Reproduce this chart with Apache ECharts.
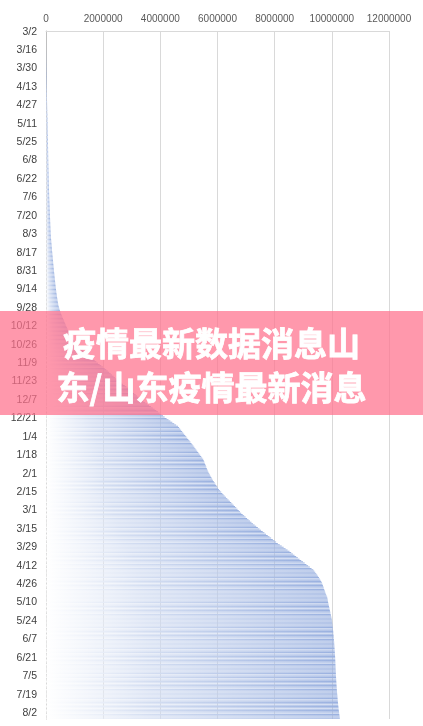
<!DOCTYPE html>
<html lang="zh-CN">
<head>
<meta charset="UTF-8">
<title>疫情最新数据消息山东</title>
<style>
  html, body { margin: 0; padding: 0; background: #fff; }
  #main { width: 423px; height: 726px; }
</style>
</head>
<body>
<div id="main"></div>
<script src="https://cdn.jsdelivr.net/npm/echarts@6/dist/echarts.min.js"></script>
<script>
// first day of the series, one bar per day
var startDate = [2020, 3, 2];

// cumulative values, 2020-03-02 .. 2020-12-31
var cases2020 = [
  // Mar
  100, 120, 150, 200, 260, 330, 420, 520, 640, 780, 940, 1120, 1350, 1650, 2000,
  2450, 2950, 3500, 4100, 4750, 5400, 6100, 6850, 7600, 8400, 9200, 10000, 10900, 11800, 12700,
  // Apr
  13600, 14500, 15400, 16300, 17200, 18100, 19000, 19900, 20800, 21700, 22600, 23500, 24500, 25500, 26600,
  27700, 28800, 29900, 31000, 32100, 33200, 34300, 35400, 36500, 37600, 38700, 39800, 40900, 42000, 43100,
  // May
  44200, 45300, 46300, 47300, 48300, 49300, 50300, 51300, 52300, 53300, 54400, 55500, 56600, 57700, 58800, 59900,
  61000, 62100, 63200, 64300, 65300, 66300, 67300, 68200, 69100, 70000, 70800, 71600, 72400, 73200, 74000,
  // Jun
  74700, 75400, 76100, 76800, 77500, 78200, 79000, 80000, 81000, 82000, 83000, 84000, 85000, 86100, 87200,
  88300, 89400, 90500, 91600, 92700, 93800, 95000, 96300, 97600, 98900, 100200, 101500, 102800, 104100, 105400,
  // Jul
  106800, 108200, 109600, 111000, 112500, 114000, 115600, 117200, 118900, 120600, 122300, 124000, 125800, 127600, 129400, 131200,
  133000, 134900, 136800, 138700, 140600, 142500, 144400, 146300, 148200, 150100, 152000, 153900, 155800, 157700, 159600,
  // Aug
  161500, 163300, 165200, 168500, 172000, 175600, 179300, 183000, 186800, 190600, 194400, 198300, 202200, 206200, 210200, 214300,
  218400, 222600, 226800, 231000, 235200, 239500, 243800, 248100, 252500, 256900, 261300, 265800, 270300, 274900, 279500,
  // Sep
  284200, 289000, 293800, 298600, 303400, 308300, 313200, 318100, 323100, 328200, 333400, 338700, 344100, 349700, 355500,
  361500, 367700, 374100, 380700, 387500, 394500, 401700, 409200, 417000, 425200, 433800, 445000, 458000, 472000, 487000,
  // Oct
  503000, 520000, 537000, 555000, 574000, 594000, 615000, 634000, 653000, 672000, 691000, 711000, 731000, 751000, 772000, 794000,
  817000, 841000, 866000, 892000, 919000, 947000, 985000, 1025000, 1067000, 1110000, 1154000, 1199000, 1245000, 1292000, 1340000,
  // Nov
  1390000, 1440000, 1491000, 1543000, 1596000, 1649000, 1702000, 1760000, 1818000, 1876000, 1934000, 1992000, 2050000, 2108000, 2160000,
  2211000, 2262000, 2313000, 2365000, 2417000, 2469000, 2521000, 2579000, 2637000, 2695000, 2754000, 2813000, 2872000, 2931000, 2982000,
  // Dec
  3033000, 3084000, 3135000, 3186000, 3237000, 3288000, 3340000, 3405000, 3471000, 3537000, 3603000, 3669000, 3735000, 3800000, 3858000, 3916000,
  3974000, 4033000, 4092000, 4150000, 4218000, 4285000, 4352000, 4419000, 4486000, 4553000, 4620000, 4656000, 4692000, 4728000, 4764000
];

// cumulative values, 2021-01-01 .. 2021-08-06
var cases2021 = [
  // Jan
  4800000, 4836000, 4872000, 4908000, 4944000, 4980000, 5016000, 5053000, 5090000, 5124000, 5158000, 5192000, 5226000, 5260000, 5294000, 5328000,
  5362000, 5396000, 5430000, 5465000, 5500000, 5518000, 5536000, 5554000, 5572000, 5590000, 5608000, 5626000, 5643000, 5660000, 5685000,
  // Feb
  5710000, 5735000, 5760000, 5786000, 5812000, 5840000, 5870000, 5900000, 5930000, 5960000, 5990000, 6020000, 6050000, 6090000,
  6130000, 6170000, 6210000, 6250000, 6296000, 6342000, 6388000, 6434000, 6480000, 6524000, 6568000, 6612000, 6656000, 6700000,
  // Mar
  6744000, 6788000, 6830000, 6881000, 6932000, 6983000, 7034000, 7085000, 7136000, 7188000, 7240000, 7297000, 7354000, 7411000, 7468000, 7525000,
  7582000, 7640000, 7699000, 7758000, 7817000, 7876000, 7935000, 7993000, 8051000, 8110000, 8178000, 8246000, 8314000, 8382000, 8450000,
  // Apr
  8520000, 8578000, 8636000, 8694000, 8752000, 8810000, 8870000, 8930000, 8990000, 9050000, 9110000, 9170000, 9230000, 9290000, 9350000,
  9385000, 9420000, 9455000, 9488000, 9520000, 9550000, 9578000, 9605000, 9630000, 9652000, 9672000, 9688000, 9702000, 9718000, 9734000,
  // May
  9750000, 9766000, 9782000, 9800000, 9820000, 9840000, 9848000, 9856000, 9864000, 9872000, 9882000, 9892000, 9902000, 9912000, 9922000, 9932000,
  9942000, 9952000, 9962000, 9972000, 9982000, 9992000, 10001000, 10010000, 10015000, 10020000, 10025000, 10030000, 10035000, 10040000, 10045000,
  // Jun
  10049000, 10053000, 10057000, 10061000, 10065000, 10069000, 10073000, 10077000, 10081000, 10084000, 10087000, 10090000, 10093000, 10096000, 10099000,
  10102000, 10105000, 10108000, 10111000, 10114000, 10117000, 10119000, 10121000, 10123000, 10125000, 10127000, 10129000, 10131000, 10133000, 10135000,
  // Jul
  10137000, 10139000, 10141000, 10143000, 10145000, 10148000, 10151000, 10154000, 10157000, 10160000, 10163000, 10166000, 10169000, 10172000, 10175000, 10178000,
  10182000, 10186000, 10190000, 10194000, 10198000, 10202000, 10206000, 10210000, 10214000, 10219000, 10224000, 10229000, 10234000, 10239000, 10244000,
  // Aug
  10250000, 10256000, 10262000, 10268000, 10274000, 10280000
];

var xTicks = { min: 0, max: 12000000, step: 2000000 };
var bannerLines = ['疫情最新数据消息山', '东/山东疫情最新消息'];

var values = cases2020.concat(cases2021);

// day labels M/D
var days = [];
var d = new Date(Date.UTC(startDate[0], startDate[1] - 1, startDate[2]));
for (var i = 0; i < values.length; i++) {
  days.push((d.getUTCMonth() + 1) + '/' + d.getUTCDate());
  d.setUTCDate(d.getUTCDate() + 1);
}

var myChart = echarts.init(document.getElementById('main'));

myChart.setOption({
  backgroundColor: '#fff',
  animation: false,
  grid: { left: 46, right: 34, top: 31, bottom: 7, containLabel: false },
  xAxis: {
    type: 'value',
    position: 'top',
    min: xTicks.min,
    max: xTicks.max,
    interval: xTicks.step,
    axisLine: { show: true, lineStyle: { color: '#d9d9d9' } },
    axisTick: { show: false },
    axisLabel: {
      color: '#595959', fontSize: 10, margin: 7, fontFamily: 'Liberation Sans',
      formatter: function (v) { return String(v); }
    },
    splitLine: { lineStyle: { color: '#d9d9d9' } }
  },
  yAxis: {
    type: 'category',
    inverse: true,
    data: days,
    axisLine: { show: true, lineStyle: { color: '#bfbfbf' } },
    axisTick: { show: false },
    axisLabel: { interval: 13, color: '#404040', fontSize: 10.5, margin: 9, fontFamily: 'Liberation Sans' }
  },
  series: [{
    type: 'bar',
    data: values,
    barCategoryGap: '25%',
    itemStyle: {
      color: new echarts.graphic.LinearGradient(0, 0, 1, 0, [
        { offset: 0, color: 'rgba(255,255,255,0.9)' },
        { offset: 0.35, color: '#d4def2' },
        { offset: 1, color: '#9ab1e0' }
      ])
    }
  }],
  graphic: [{
    type: 'rect',
    z: 100,
    shape: { x: 0, y: 311, width: 423, height: 104 },
    style: { fill: 'rgba(255,112,140,0.72)' }
  }, {
    type: 'text',
    z: 101,
    x: 211.5,
    y: 365,
    style: {
      text: bannerLines.join('\n'),
      fill: '#ffffff',
      stroke: '#ffffff',
      lineWidth: 0.8,
      fontSize: 33,
      fontWeight: 'bold',
      fontFamily: '"Noto Sans CJK SC"',
      lineHeight: 44,
      align: 'center',
      verticalAlign: 'middle'
    }
  }]
});
</script>
</body>
</html>
